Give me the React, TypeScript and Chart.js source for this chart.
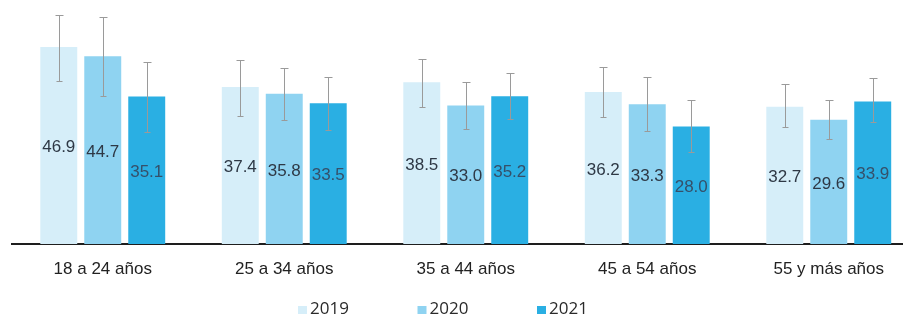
import React, { useEffect, useRef } from "react";
import { Chart, registerables } from "chart.js";

Chart.register(...registerables);

const categories = ["18 a 24 años", "25 a 34 años", "35 a 44 años", "45 a 54 años", "55 y más años"];
const seriesNames = ["2019", "2020", "2021"];
const values2019 = [46.9, 37.4, 38.5, 36.2, 32.7];
const values2020 = [44.7, 35.8, 33.0, 33.3, 29.6];
const values2021 = [35.1, 33.5, 35.2, 28.0, 33.9];
const upper2019 = [54.6, 43.8, 44.0, 42.2, 38.0];
const lower2019 = [38.9, 30.5, 32.7, 30.2, 27.8];
const upper2020 = [54.0, 41.9, 38.6, 39.7, 34.3];
const lower2020 = [35.3, 29.5, 27.5, 27.0, 24.9];
const upper2021 = [43.3, 39.8, 40.8, 34.3, 39.5];
const lower2021 = [26.7, 27.1, 29.7, 22.0, 29.1];

const colors = ["#d6eef9", "#8fd3f1", "#2aafe3"];
const labelColors = ["#2e3845", "#2e3845", "#35506a"];

const errorBarPlugin = {
  id: "errorBars",
  afterDatasetsDraw(chart: any) {
    const ctx = chart.ctx;
    const y = chart.scales.y;
    const uppers = [upper2019, upper2020, upper2021];
    const lowers = [lower2019, lower2020, lower2021];
    ctx.save();
    ctx.strokeStyle = "#9a9a9a";
    ctx.lineWidth = 1;
    chart.data.datasets.forEach((_ds: any, i: number) => {
      const meta = chart.getDatasetMeta(i);
      meta.data.forEach((el: any, j: number) => {
        const x = Math.round(el.x) + 0.5;
        const yt = Math.round(y.getPixelForValue(uppers[i][j])) + 0.5;
        const yb = Math.round(y.getPixelForValue(lowers[i][j])) + 0.5;
        ctx.beginPath();
        ctx.moveTo(x, yt);
        ctx.lineTo(x, yb);
        ctx.moveTo(x - 4, yt);
        ctx.lineTo(x + 4, yt);
        ctx.moveTo(x - 3, yb);
        ctx.lineTo(x + 3, yb);
        ctx.stroke();
      });
    });
    ctx.restore();
  },
};

const valueLabelPlugin = {
  id: "valueLabels",
  afterDatasetsDraw(chart: any) {
    const ctx = chart.ctx;
    ctx.save();
    ctx.font = "17px 'Liberation Sans', Arial, sans-serif";
    ctx.textAlign = "center";
    ctx.textBaseline = "middle";
    chart.data.datasets.forEach((ds: any, i: number) => {
      const meta = chart.getDatasetMeta(i);
      ctx.fillStyle = labelColors[i];
      meta.data.forEach((el: any, j: number) => {
        const v = ds.data[j] as number;
        ctx.fillText(v.toFixed(1), el.x, (el.y + el.base) / 2 + 2);
      });
    });
    ctx.restore();
  },
};

const legendPlugin = {
  id: "customLegend",
  afterDraw(chart: any) {
    const ctx = chart.ctx;
    ctx.save();
    ctx.font = "17px 'Open Sans', sans-serif";
    ctx.textBaseline = "middle";
    ctx.textAlign = "left";
    const startX = 298;
    const step = 119.5;
    const cy = 309;
    seriesNames.forEach((name, i) => {
      const x = startX + i * step;
      ctx.fillStyle = colors[i];
      ctx.fillRect(x, cy - 3, 9, 8);
      ctx.fillStyle = "#2a2a2a";
      ctx.fillText(name, x + 12, cy);
    });
    ctx.restore();
  },
};

export default function App() {
  const ref = useRef<HTMLCanvasElement | null>(null);
  useEffect(() => {
    if (!ref.current) return;
    const chart = new Chart(ref.current, {
      type: "bar",
      data: {
        labels: categories,
        datasets: [
          { label: seriesNames[0], data: values2019, backgroundColor: colors[0] },
          { label: seriesNames[1], data: values2020, backgroundColor: colors[1] },
          { label: seriesNames[2], data: values2021, backgroundColor: colors[2] },
        ],
      },
      options: {
        responsive: false,
        animation: false,
        devicePixelRatio: 1,
        layout: { padding: { left: 12, right: 20.5, top: 4.6, bottom: 0 } },
        datasets: { bar: { categoryPercentage: 0.727, barPercentage: 0.84 } },
        plugins: { legend: { display: false }, tooltip: { enabled: false } },
        scales: {
          x: {
            grid: { display: false, drawTicks: false },
            border: { display: true, color: "#1e1e1e", width: 2 },
            ticks: {
              padding: 15,
              color: "#222222",
              font: { family: "'Liberation Sans', Arial, sans-serif", size: 17 },
              maxRotation: 0,
            },
            afterFit(scale: any) {
              scale.height = 72;
            },
          },
          y: { display: false, min: 0, max: 57 },
        },
      },
      plugins: [errorBarPlugin, valueLabelPlugin, legendPlugin],
    });
    return () => chart.destroy();
  }, []);
  return (
    <div style={{ position: "absolute", left: 0, top: 0, width: 903, height: 316, overflow: "hidden", background: "#ffffff" }}>
      <canvas ref={ref} width={940} height={316} style={{ width: 940, height: 316, display: "block" }} />
    </div>
  );
}
